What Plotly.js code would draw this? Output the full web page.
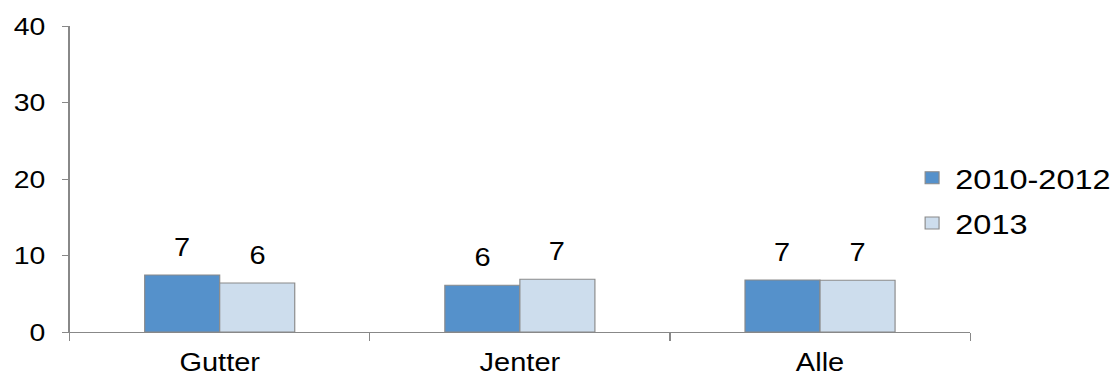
<!DOCTYPE html>
<html><head><meta charset="utf-8">
<script src="https://cdn.plot.ly/plotly-3.0.1.min.js"></script>
<style>
html,body{margin:0;padding:0;background:#fff;overflow:hidden;width:1114px;height:379px}
#c{width:960px;height:379px;transform:scaleX(1.16042);transform-origin:0 0}
</style>
</head><body><div id="c"></div>
<script>
const categories = ["Gutter", "Jenter", "Alle"];
const seriesNames = ["2010-2012", "2013"];
const values2010 = [7.45, 6.1, 6.8];
const values2013 = [6.4, 6.9, 6.75];
const yTicks = [0, 10, 20, 30, 40];

const colors = ["#5591CB", "#CDDDED"];
const allVals = [values2010, values2013];
const traces = allVals.map((v, i) => ({
  type: "bar", name: seriesNames[i], x: categories, y: v,
  legendgroup: "g" + i,
  marker: {color: colors[i], line: {color: "#8a8a8a", width: 1}},
  hoverinfo: "none"
}));

const annotations = [];
allVals.forEach((v, i) => {
  v.forEach((val, j) => {
    annotations.push({
      x: j + (i === 0 ? -0.125 : 0.125), y: val, xref: "x", yref: "y",
      yshift: 12,
      text: String(Math.round(val)), showarrow: false, yanchor: "bottom",
      font: {family: "Liberation Sans, Arial", size: 25, color: "#000"}
    });
  });
});

const layout = {
  width: 960, height: 379,
  margin: {l: 60.3, r: 124.1, t: 26, b: 47, autoexpand: false},
  paper_bgcolor: "#fff", plot_bgcolor: "#fff",
  font: {family: "Liberation Sans, Arial", size: 24, color: "#000"},
  barmode: "group", bargap: 0.5, bargroupgap: 0,
  showlegend: true,
  legend: {x: 0.932, xanchor: "left", y: 0.585, yanchor: "top",
    traceorder: "grouped", tracegroupgap: 6,
    font: {size: 28}, bgcolor: "rgba(0,0,0,0)"},
  xaxis: {type: "category", showline: true, linecolor: "#888", linewidth: 1,
    ticks: "outside", tickson: "boundaries", ticklen: 8, tickcolor: "#888",
    ticklabelstandoff: 8,
    showgrid: false, zeroline: false, tickfont: {size: 25}, automargin: false},
  yaxis: {range: [0, 40], tickvals: yTicks, showline: true, linecolor: "#888",
    linewidth: 1, ticks: "outside", ticklen: 6, tickcolor: "#888",
    ticklabelstandoff: 9,
    showgrid: false, zeroline: false, tickfont: {size: 24.5}, automargin: false},
  annotations: annotations
};
Plotly.newPlot("c", traces, layout, {staticPlot: true});
</script></body></html>
